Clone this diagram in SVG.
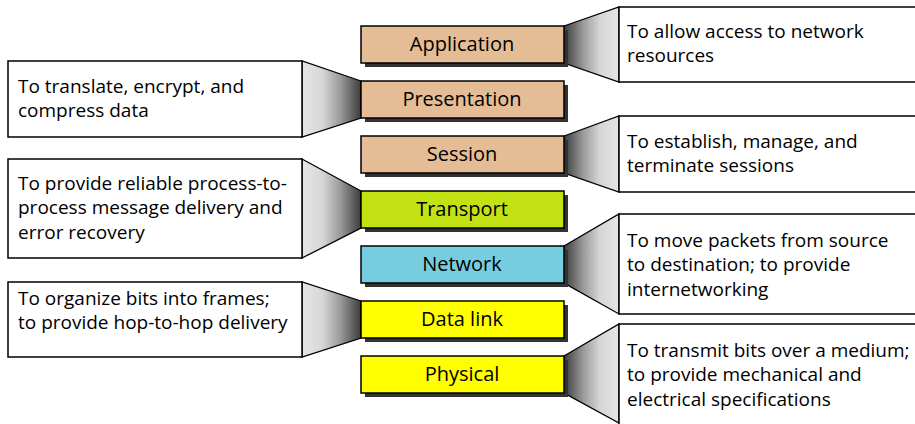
<svg xmlns="http://www.w3.org/2000/svg" width="915" height="424" viewBox="0 0 915 424">
<defs>
<linearGradient id="gR" x1="0" y1="0" x2="1" y2="0">
<stop offset="0" stop-color="#3c3c3c"/>
<stop offset="0.35" stop-color="#9a9a9a"/>
<stop offset="0.65" stop-color="#d6d6d6"/>
<stop offset="1" stop-color="#e6e6e6"/>
</linearGradient>
<linearGradient id="gL" x1="1" y1="0" x2="0" y2="0">
<stop offset="0" stop-color="#3c3c3c"/>
<stop offset="0.35" stop-color="#9a9a9a"/>
<stop offset="0.65" stop-color="#d6d6d6"/>
<stop offset="1" stop-color="#e6e6e6"/>
</linearGradient>
</defs>
<style>
.desc{fill:#fff;stroke:#000;stroke-width:1.5}
.trap{stroke:#000;stroke-width:1.3;stroke-linejoin:miter}
.shadow{fill:#333}
.layer{stroke:#000;stroke-width:1.5}
.tan{fill:#e4bd96}
.green{fill:#c3e213}
.blue{fill:#76cde0}
.yellow{fill:#ffff00}
.lt{font-family:"Open Sans","Noto Sans","Liberation Sans",sans-serif;font-size:20px;fill:#000;text-anchor:middle}
.dt{font-family:"Open Sans","Noto Sans","Liberation Sans",sans-serif;font-size:19px;fill:#000}
</style>
<rect width="915" height="424" fill="#fff"/>
<g id="connectors">
<polygon class="trap" fill="url(#gR)" points="564,26 619,7 619,82 564,63"/>
<polygon class="trap" fill="url(#gL)" points="361,81 302,61 302,137 361,118"/>
<polygon class="trap" fill="url(#gR)" points="564,136 619,116 619,192 564,173"/>
<polygon class="trap" fill="url(#gL)" points="361,191 302,159 302,258 361,228"/>
<polygon class="trap" fill="url(#gR)" points="564,246 619,214 619,314 564,283"/>
<polygon class="trap" fill="url(#gL)" points="361,301 302,282 302,357 361,338"/>
<polygon class="trap" fill="url(#gR)" points="564,356 619,324 619,423 564,393"/>
</g>
<g id="desc-application">
<rect class="desc" x="619" y="7" width="310" height="75"/>
<text class="dt" x="627" y="38">To allow access to network</text>
<text class="dt" x="627" y="62">resources</text>
</g>
<g id="desc-presentation">
<rect class="desc" x="8" y="61" width="294" height="76"/>
<text class="dt" x="18" y="93">To translate, encrypt, and</text>
<text class="dt" x="18" y="117">compress data</text>
</g>
<g id="desc-session">
<rect class="desc" x="619" y="116" width="310" height="76"/>
<text class="dt" x="627" y="148">To establish, manage, and</text>
<text class="dt" x="627" y="172">terminate sessions</text>
</g>
<g id="desc-transport">
<rect class="desc" x="8" y="159" width="294" height="99"/>
<text class="dt" x="18" y="190">To provide reliable process-to-</text>
<text class="dt" x="18" y="214">process message delivery and</text>
<text class="dt" x="18" y="239">error recovery</text>
</g>
<g id="desc-network">
<rect class="desc" x="619" y="214" width="310" height="100"/>
<text class="dt" x="627" y="247">To move packets from source</text>
<text class="dt" x="627" y="271">to destination; to provide</text>
<text class="dt" x="627" y="296">internetworking</text>
</g>
<g id="desc-datalink">
<rect class="desc" x="8" y="282" width="294" height="75"/>
<text class="dt" x="18" y="305">To organize bits into frames;</text>
<text class="dt" x="18" y="329">to provide hop-to-hop delivery</text>
</g>
<g id="desc-physical">
<rect class="desc" x="619" y="324" width="310" height="110"/>
<text class="dt" x="627" y="357">To transmit bits over a medium;</text>
<text class="dt" x="627" y="381">to provide mechanical and</text>
<text class="dt" x="627" y="406">electrical specifications</text>
</g>
<g id="layer-application">
<rect class="shadow" x="365" y="30" width="203" height="37"/>
<rect class="layer tan" x="361" y="26" width="203" height="37"/>
<text class="lt" x="462" y="51">Application</text>
</g>
<g id="layer-presentation">
<rect class="shadow" x="365" y="85" width="203" height="37"/>
<rect class="layer tan" x="361" y="81" width="203" height="37"/>
<text class="lt" x="462" y="106">Presentation</text>
</g>
<g id="layer-session">
<rect class="shadow" x="365" y="140" width="203" height="37"/>
<rect class="layer tan" x="361" y="136" width="203" height="37"/>
<text class="lt" x="462" y="161">Session</text>
</g>
<g id="layer-transport">
<rect class="shadow" x="365" y="195" width="203" height="37"/>
<rect class="layer green" x="361" y="191" width="203" height="37"/>
<text class="lt" x="462" y="216">Transport</text>
</g>
<g id="layer-network">
<rect class="shadow" x="365" y="250" width="203" height="37"/>
<rect class="layer blue" x="361" y="246" width="203" height="37"/>
<text class="lt" x="462" y="271">Network</text>
</g>
<g id="layer-datalink">
<rect class="shadow" x="365" y="305" width="203" height="37"/>
<rect class="layer yellow" x="361" y="301" width="203" height="37"/>
<text class="lt" x="462" y="326">Data link</text>
</g>
<g id="layer-physical">
<rect class="shadow" x="365" y="360" width="203" height="37"/>
<rect class="layer yellow" x="361" y="356" width="203" height="37"/>
<text class="lt" x="462" y="381">Physical</text>
</g>
</svg>
